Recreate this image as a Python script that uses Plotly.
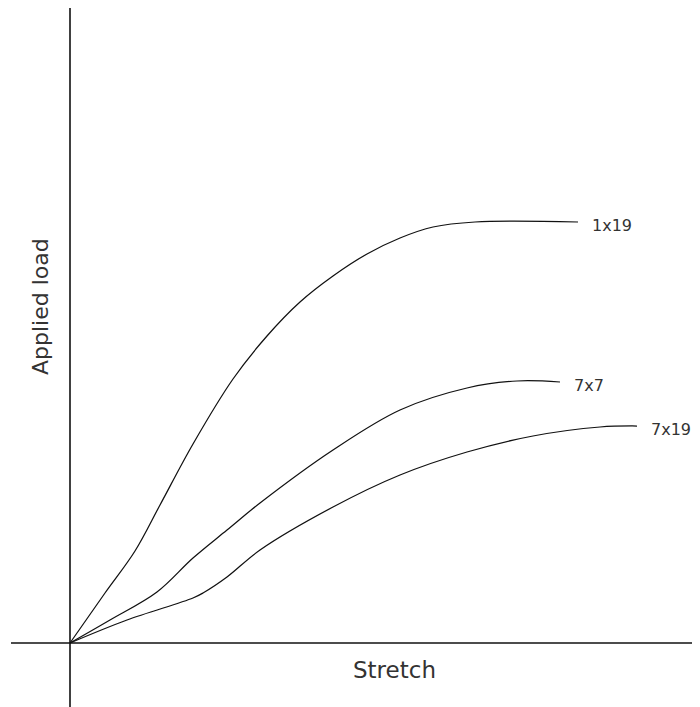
import plotly.graph_objects as go

# Data (arbitrary units)
stretch_1x19 = [0, 35, 65, 90, 123, 163, 197, 230, 263, 297, 330, 363, 405, 508]
load_1x19 = [0, 50, 92, 138, 199, 264, 307, 341, 367, 389, 405, 416, 421, 421]

stretch_7x7 = [0, 40, 87, 123, 157, 190, 263, 330, 397, 447, 490]
load_7x7 = [0, 23, 51, 85, 113, 140, 193, 233, 255, 262, 261]

stretch_7x19 = [0, 57, 123, 133, 157, 190, 263, 330, 397, 463, 530, 567]
load_7x19 = [0, 23, 45, 50, 66, 93, 136, 168, 191, 207, 216, 217]

series_names = ["1x19", "7x7", "7x19"]
x_title = "Stretch"
y_title = "Applied load"

FONT = "DejaVu Sans"
LINE = "#111111"
TEXT = "#333333"

fig = go.Figure()
for name, xs, ys in [
    (series_names[0], stretch_1x19, load_1x19),
    (series_names[1], stretch_7x7, load_7x7),
    (series_names[2], stretch_7x19, load_7x19),
]:
    fig.add_trace(go.Scatter(x=xs, y=ys, mode="lines", name=name,
                             line=dict(color=LINE, width=1.25, shape="spline", smoothing=1.0),
                             hoverinfo="skip"))
    fig.add_annotation(x=xs[-1], y=ys[-1], text=name, showarrow=False,
                       xanchor="left", yanchor="middle", xshift=12, yshift=-3,
                       font=dict(family=FONT, size=16, color=TEXT))

# axes lines
fig.add_shape(type="line", x0=0, x1=0, y0=-64, y1=635, line=dict(color=LINE, width=1.6), layer="below")
fig.add_shape(type="line", x0=-59, x1=630, y0=0, y1=0, line=dict(color=LINE, width=1.6), layer="below")

fig.add_annotation(x=324, y=-27, text=x_title, showarrow=False, xanchor="center", yanchor="middle",
                   font=dict(family=FONT, size=23, color=TEXT))
fig.add_annotation(x=-30, y=336, text=y_title, showarrow=False, textangle=-90,
                   xanchor="center", yanchor="middle",
                   font=dict(family=FONT, size=22, color=TEXT))

# the page body has an 8px margin, so the figure is sized and ranged to fit inside it
fig.update_layout(
    width=692, height=699,
    margin=dict(l=0, r=0, t=0, b=0),
    paper_bgcolor="white", plot_bgcolor="white",
    showlegend=False,
    xaxis=dict(range=[-62, 630], visible=False, fixedrange=True),
    yaxis=dict(range=[-64, 635], visible=False, fixedrange=True),
)
fig.write_html("out.html")
